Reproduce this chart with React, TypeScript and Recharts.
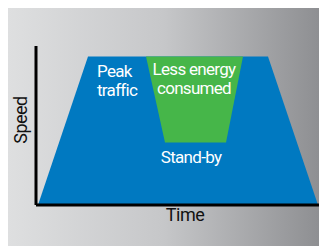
import { ComposedChart, Area, XAxis, YAxis, ReferenceDot } from "recharts";

// time (x) and speed (y) of the traffic profile
const blueTime = [2, 52, 110, 129, 190, 207, 232, 282];
const blueSpeed = [0, 100, 100, 100, 100, 100, 100, 0];
// energy saving band: [low, high] speed, only in the middle of the peak
const greenLow = [null, null, 100, 42, 42, 100, null, null];
const greenHigh = [null, null, 100, 100, 100, 100, null, null];

const notes = [
  { t: 61, v: 86, lines: ["Peak", "traffic"], anchor: "start" },
  { t: 158, v: 87.5, lines: ["Less energy", "consumed"], anchor: "middle" },
  { t: 155, v: 28.3, lines: ["Stand-by"], anchor: "middle" },
];

const data = blueTime.map((t, i) => ({
  t,
  blue: blueSpeed[i],
  green: greenLow[i] == null ? null : [greenLow[i], greenHigh[i]],
}));

const FONT = "Roboto, sans-serif";

function NoteText({ viewBox, lines, anchor }: any) {
  const x = viewBox.x + viewBox.width / 2;
  const y = viewBox.y + viewBox.height / 2;
  return (
    <text x={x} y={y} fill="#fff" fontSize={17} letterSpacing={-0.7} fontFamily={FONT} textAnchor={anchor}>
      {lines.map((l: string, i: number) => (
        <tspan key={i} x={x} dy={i === 0 ? 0 : 19}>
          {l}
        </tspan>
      ))}
    </text>
  );
}

export default function App() {
  return (
    <div style={{ position: "absolute", left: 0, top: 0, width: 319, height: 247, background: "#fff" }}>
      <div
        style={{
          position: "absolute",
          left: 8,
          top: 8,
          width: 311,
          height: 238,
          background: "linear-gradient(to right, #dedfe0 0%, #c6c7c9 50%, #8e8f92 100%)",
        }}
      />
      <div style={{ position: "absolute", left: 0, top: 0 }}>
        <ComposedChart width={319} height={247} data={data} margin={{ top: 46, right: 0, left: 0, bottom: 0 }}>
          <XAxis
            type="number"
            dataKey="t"
            domain={[0, 283]}
            tick={false}
            tickLine={false}
            height={42}
            axisLine={{ stroke: "#000", strokeWidth: 3 }}
            label={{
              content: () => (
                <text x={185} y={221} fontSize={18} letterSpacing={-0.5} fontFamily={FONT} fill="#111" textAnchor="middle">
                  Time
                </text>
              ),
            }}
          />
          <YAxis
            type="number"
            domain={[0, 107]}
            tick={false}
            tickLine={false}
            width={36}
            axisLine={{ stroke: "#000", strokeWidth: 3 }}
            label={{
              content: () => (
                <text
                  x={27}
                  y={120}
                  fontSize={18}
                  letterSpacing={-0.5}
                  fontFamily={FONT}
                  fill="#111"
                  textAnchor="middle"
                  transform="rotate(-90 27 120)"
                >
                  Speed
                </text>
              ),
            }}
          />
          <Area
            type="linear"
            dataKey="blue"
            fill="#0079c1"
            fillOpacity={1}
            stroke="none"
            isAnimationActive={false}
            dot={false}
            activeDot={false}
          />
          <Area
            type="linear"
            dataKey="green"
            fill="#46b649"
            fillOpacity={1}
            stroke="none"
            isAnimationActive={false}
            dot={false}
            activeDot={false}
          />
          {notes.map((n, i) => (
            <ReferenceDot
              key={i}
              x={n.t}
              y={n.v}
              r={0}
              fill="none"
              stroke="none"
              label={{ content: (p: any) => <NoteText {...p} lines={n.lines} anchor={n.anchor} /> }}
            />
          ))}
        </ComposedChart>
      </div>
    </div>
  );
}
